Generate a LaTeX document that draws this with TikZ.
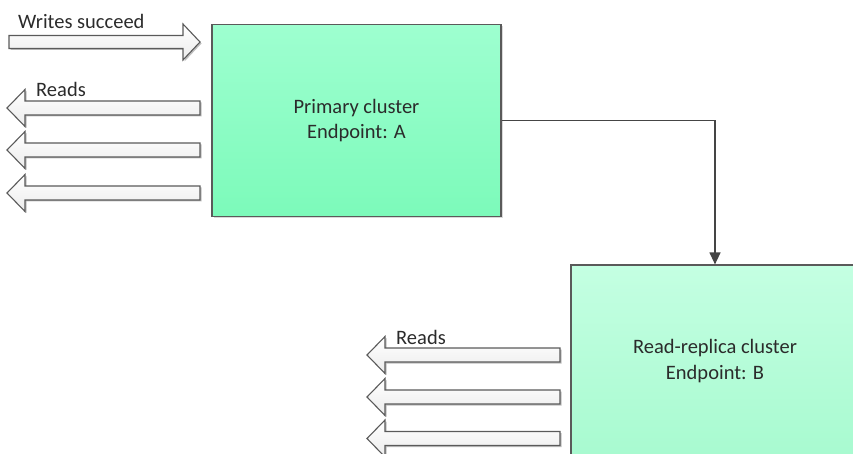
\documentclass[tikz,border=0pt]{standalone}
\usepackage{fontspec}
\setmainfont{Carlito}
\usetikzlibrary{arrows.meta,shadows}
\definecolor{txt}{HTML}{2B2B2B}
\definecolor{edge}{HTML}{5A5A5A}
\definecolor{linkc}{HTML}{454545}
\definecolor{pTop}{RGB}{158,255,208}
\definecolor{pBot}{RGB}{124,250,186}
\definecolor{rTop}{RGB}{196,255,226}
\definecolor{rBot}{RGB}{168,250,208}
\tikzset{
  cluster/.style={draw=edge, line width=1.2pt, drop shadow={shadow xshift=2pt, shadow yshift=-2pt, opacity=0.15, fill=black},
    align=center, text=txt, font=\fontsize{20.5}{25.5}\selectfont, inner sep=0pt},
  primarybox/.style={cluster, top color=pTop, bottom color=pBot},
  replicabox/.style={cluster, top color=rTop, bottom color=rBot},
  blockarrow/.style={draw=edge, line width=1.1pt, line join=miter, top color=white, bottom color=gray!15,
    drop shadow={shadow xshift=1.5pt, shadow yshift=-1.5pt, opacity=0.25, fill=black}},
  lbl/.style={text=txt, font=\fontsize{20.5}{25.5}\selectfont, inner sep=0pt, anchor=base west},
  link/.style={draw=linkc, line width=1.3pt, -{Triangle[length=12pt,width=11pt]}}
}
\begin{document}
\begin{tikzpicture}[x=1pt,y=-1pt]
\useasboundingbox (0,0) rectangle (853,454);
% boxes
\node[primarybox, minimum width=289pt, minimum height=192pt] (A) at (356.5,120.5) {Primary cluster\\Endpoint: A};
\node[replicabox, minimum width=288pt, minimum height=192pt] (B) at (715,361) {Read-replica cluster\\Endpoint: B};
% connector
\draw[link] (A.east) -| (B.north);
% writes arrow (right-pointing)
\draw[blockarrow] (9,35.5) -- (183,35.5) -- (183,24) -- (200,42) -- (183,60) -- (183,48.5) -- (9,48.5) -- cycle;
\node[lbl] (w) at (18,28.5) {Writes succeed};
% reads arrows upper
\foreach \yy in {108,150,193}{
  \draw[blockarrow] (200,\yy-7) -- (25,\yy-7) -- (25,\yy-18.5) -- (7,\yy) -- (25,\yy+18.5) -- (25,\yy+7) -- (200,\yy+7) -- cycle;
}
\node[lbl] (r1) at (36,97) {Reads};
% reads arrows lower
\foreach \yy in {355,397,438.5}{
  \draw[blockarrow] (560,\yy-7) -- (385,\yy-7) -- (385,\yy-18.5) -- (367,\yy) -- (385,\yy+18.5) -- (385,\yy+7) -- (560,\yy+7) -- cycle;
}
\node[lbl] (r2) at (396,344) {Reads};
\end{tikzpicture}
\end{document}
